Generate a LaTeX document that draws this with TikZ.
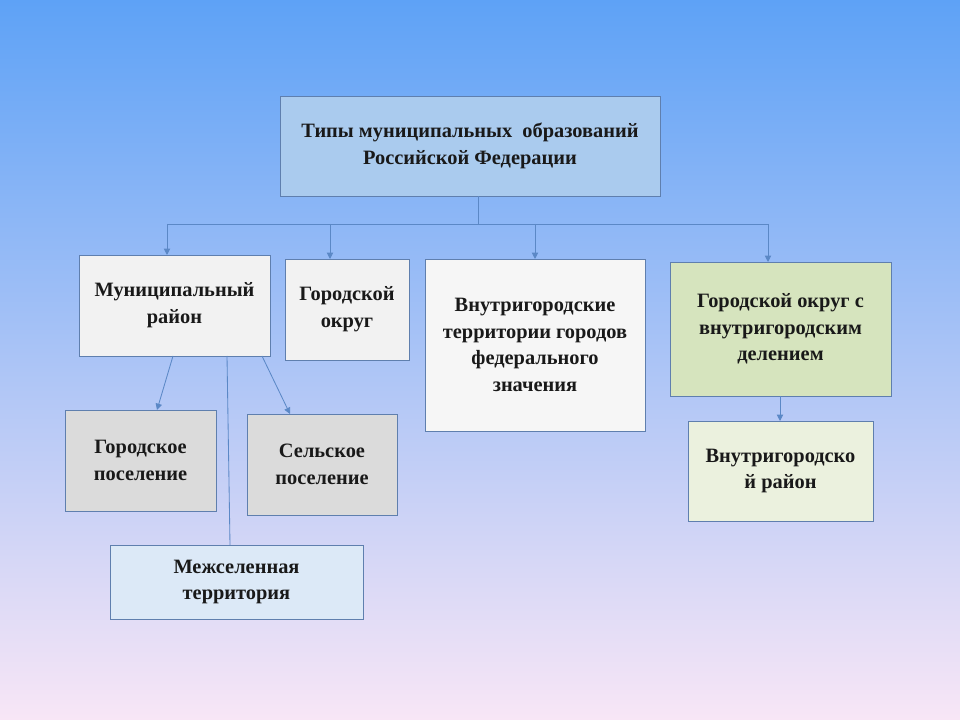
\documentclass[tikz,border=0pt]{standalone}
\usepackage{fontspec}
\setmainfont{Liberation Serif}
\usetikzlibrary{arrows.meta}
\definecolor{edgeblue}{HTML}{5F7FAE}
\definecolor{linkblue}{HTML}{5B88C6}
\definecolor{skytop}{HTML}{5EA2F6}
\definecolor{skymid}{HTML}{A6CEF2}
\definecolor{skybot}{HTML}{F8E6F6}
\definecolor{titlefill}{RGB}{170,203,238}
\begin{document}
\begin{tikzpicture}[x=0.025cm,y=-0.025cm]
  \tikzstyle{typebox}=[draw=edgeblue, line width=0.6pt, inner sep=0pt, outer sep=0pt, align=center, text=black!90, font=\bfseries\fontsize{14.5}{19}\selectfont]
  \tikzstyle{link}=[draw=linkblue, line width=0.6pt]
  \tikzstyle{arr}=[link, -{Triangle[width=4.5pt,length=4.5pt]}]
  % background
  \shade[top color=skytop, middle color=skymid, bottom color=skybot] (0,0) rectangle (960,720);
  \useasboundingbox (0,0) rectangle (960,720);
  % boxes
  \node[typebox, fill=titlefill, minimum width=9.5cm, minimum height=2.5cm] (types) at (470,146) {Типы муниципальных \ образований\\Российской Федерации};
  \node[typebox, fill=gray!10, minimum width=4.775cm, minimum height=2.525cm] (munrayon) at (174.5,305.5) {Муниципальный\\район};
  \node[typebox, fill=gray!10, minimum width=3.1cm, minimum height=2.525cm] (gorokrug) at (347,309.5) {Городской\\округ};
  \node[typebox, fill=gray!7, minimum width=5.5cm, minimum height=4.3cm] (vnutrter) at (535,345) {Внутригородские\\территории городов\\федерального\\значения};
  \node[typebox, fill={rgb,255:red,214;green,228;blue,190}, minimum width=5.525cm, minimum height=3.35cm] (gordelen) at (780.5,329) {Городской округ с\\внутригородским\\делением};
  \node[typebox, fill={rgb,255:red,235;green,241;blue,222}, minimum width=4.625cm, minimum height=2.5cm] (vnutrray) at (780.5,471) {Внутригородско\\й район};
  \node[typebox, fill=gray!28, minimum width=3.775cm, minimum height=2.525cm] (gorpos) at (140.5,460.5) {Городское\\поселение};
  \node[typebox, fill=gray!28, minimum width=3.75cm, minimum height=2.525cm] (selpos) at (322,464.5) {Сельское\\поселение};
  \node[typebox, fill={rgb,255:red,220;green,233;blue,247}, minimum width=6.325cm, minimum height=1.85cm] (mezhsel) at (236.5,582) {Межселенная\\территория};
  % connectors
  \coordinate (bus) at (478,224);
  \coordinate (busl) at (167,224);
  \coordinate (busr) at (768,224);
  \coordinate (tapgo) at (330,224);
  \coordinate (tapvt) at (535,224);
  \draw[link] (types.south -| bus) -- (bus);
  \draw[link] (busl) -- (busr);
  \draw[arr] (busl) -- (busl |- munrayon.north);
  \draw[arr] (tapgo) -- (tapgo |- gorokrug.north);
  \draw[arr] (tapvt) -- (tapvt |- vnutrter.north);
  \draw[arr] (busr) -- (busr |- gordelen.north);
  \coordinate (mrl) at (173,356);
  \coordinate (mrm) at (227,356);
  \coordinate (mrr) at (262,356);
  \coordinate (gpin) at (157,410);
  \coordinate (spin) at (290,414);
  \coordinate (mtin) at (230,545);
  \draw[arr] (mrl) -- (gpin);
  \draw[arr] (mrr) -- (spin);
  \draw[link] (mrm) -- (mtin);
  \draw[arr] (gordelen.south -| 780,0) -- (vnutrray.north -| 780,0);
\end{tikzpicture}
\end{document}
